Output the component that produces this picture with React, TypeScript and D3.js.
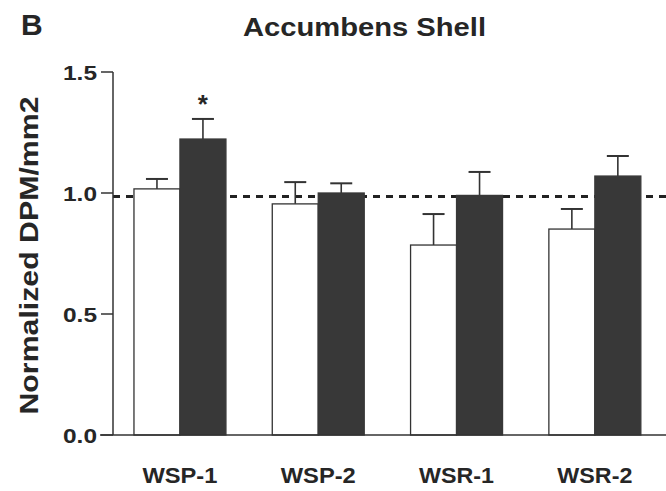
import React from "react";
import * as d3 from "d3";

const categories = ["WSP-1", "WSP-2", "WSR-1", "WSR-2"];
const groups = ["control", "treated"];
const controlMeans = [1.017, 0.955, 0.785, 0.851];
const controlErr = [0.041, 0.09, 0.128, 0.083];
const treatedMeans = [1.223, 1.0, 0.99, 1.07];
const treatedErr = [0.083, 0.04, 0.097, 0.083];
const significant = [true, false, false, false];
const yTicks = [0, 0.5, 1.0, 1.5];
const referenceLevel = 0.986;

const W = 666;
const H = 491;
const FONT = "'Liberation Sans', Arial, Helvetica, sans-serif";
const INK = "#262626";

export default function App() {
  const y = d3.scaleLinear().domain([0, 1.5]).range([435, 72]);
  const x = d3
    .scaleBand<string>()
    .domain(categories)
    .range([110.8, 664])
    .paddingInner(0.335)
    .paddingOuter(0.1675);
  const sub = d3.scaleBand<string>().domain(groups).range([0, x.bandwidth()]);
  const axisX = 113;
  const capHalf = 11;

  const series = [
    { key: "control", means: controlMeans, errs: controlErr, fill: "#ffffff" },
    { key: "treated", means: treatedMeans, errs: treatedErr, fill: "#383838" },
  ];

  return (
    <svg
      width={W}
      height={H}
      style={{ position: "absolute", left: 0, top: 0, background: "#fff" }}
      fontFamily={FONT}
    >
      <rect x={0} y={0} width={W} height={H} fill="#fff" />
      {/* panel letter */}
      <text x={21} y={35} fontSize={30} fontWeight="bold" fill={INK}>
        B
      </text>
      {/* title */}
      <text
        x={243}
        y={36}
        fontSize={25}
        fontWeight="bold"
        fill={INK}
        textLength={243}
        lengthAdjust="spacingAndGlyphs"
      >
        Accumbens Shell
      </text>
      {/* y label */}
      <text
        transform={`translate(38, ${y(0.75) + 2}) rotate(-90)`}
        textAnchor="middle"
        fontSize={26}
        fontWeight="bold"
        fill={INK}
        textLength={318}
        lengthAdjust="spacingAndGlyphs"
      >
        Normalized DPM/mm2
      </text>

      {/* reference dashed line */}
      <line
        x1={axisX}
        x2={W}
        y1={y(referenceLevel)}
        y2={y(referenceLevel)}
        stroke="#222"
        strokeWidth={3}
        strokeDasharray="7 6"
      />

      {/* bars */}
      {categories.map((c, i) => (
        <g key={c} transform={`translate(${x(c)},0)`}>
          {series.map((s) => {
            const bx = sub(s.key) as number;
            const bw = sub.bandwidth();
            const top = y(s.means[i]);
            const cap = y(s.means[i] + s.errs[i]);
            const cx = bx + bw / 2;
            return (
              <g key={s.key}>
                <line x1={cx} x2={cx} y1={top} y2={cap} stroke="#333" strokeWidth={1.6} />
                <line
                  x1={cx - capHalf}
                  x2={cx + capHalf}
                  y1={cap}
                  y2={cap}
                  stroke="#333"
                  strokeWidth={2}
                />
                <rect
                  x={bx}
                  y={top}
                  width={bw}
                  height={y(0) - top}
                  fill={s.fill}
                  stroke={s.key === "control" ? "#333" : "#383838"}
                  strokeWidth={1.3}
                />
                {s.key === "treated" && significant[i] ? (
                  <text
                    x={cx}
                    y={cap - 6}
                    textAnchor="middle"
                    fontSize={26}
                    fontWeight="bold"
                    fill={INK}
                  >
                    *
                  </text>
                ) : null}
              </g>
            );
          })}
        </g>
      ))}

      {/* axes */}
      <line x1={axisX} x2={axisX} y1={y(1.5)} y2={y(0)} stroke="#333" strokeWidth={1.5} />
      <line x1={100} x2={W} y1={y(0)} y2={y(0)} stroke="#333" strokeWidth={1.5} />
      {yTicks.map((t) => (
        <g key={t}>
          <line x1={101} x2={axisX} y1={y(t)} y2={y(t)} stroke="#333" strokeWidth={1.5} />
          <text
            x={97}
            y={y(t) + 7.5}
            textAnchor="end"
            fontSize={21}
            fill={INK}
            textLength={34}
            lengthAdjust="spacingAndGlyphs"
            fontWeight={600}
          >
            {d3.format(".1f")(t)}
          </text>
        </g>
      ))}
      {categories.map((c) => (
        <text
          key={c}
          x={(x(c) as number) + x.bandwidth() / 2}
          y={483}
          textAnchor="middle"
          fontSize={22}
          fontWeight="bold"
          fill={INK}
          textLength={75}
          lengthAdjust="spacingAndGlyphs"
        >
          {c}
        </text>
      ))}
    </svg>
  );
}
